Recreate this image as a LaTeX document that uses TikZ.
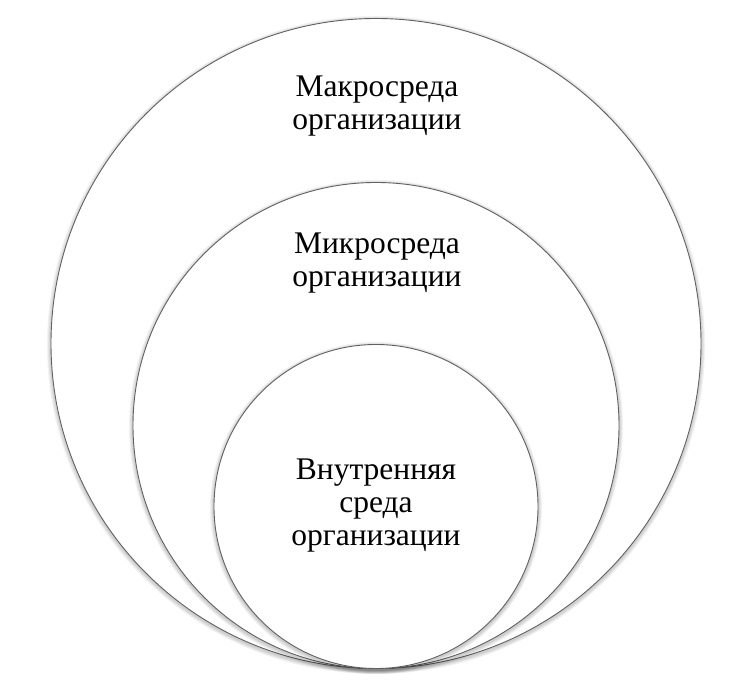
\documentclass[tikz,border=0pt]{standalone}
\usepackage{fontspec}
\setmainfont{Liberation Serif}
\tikzset{
  ring/.style={draw=black!62, line width=0.9pt, fill=white},
  ringshade/.style={fill=black, opacity=0.05, draw=none},
  envtext/.style={align=center, font=\fontsize{31.5}{33}\selectfont}
}
\begin{document}
\begin{tikzpicture}[x=1pt,y=1pt]
 \useasboundingbox (0,0) rectangle (734,687);

 % macro environment
 \foreach \s in {1,2,3,4}
  \fill[ringshade] (376,342) circle ({325pt+\s pt});
 \draw[ring] (376,343.5) circle (325pt);

 % micro environment
 \foreach \s in {1,2,3,4}
  \fill[ringshade] (376,260) circle ({243pt+\s pt});
 \draw[ring] (376,261.5) circle (243pt);

 % internal environment
 \foreach \s in {1,2,3,4}
  \fill[ringshade] (376,179) circle ({162pt+\s pt});
 \draw[ring] (376,180.5) circle (162pt);

 \node[envtext] (macro) at (377,581) {Макросреда\\организации};
 \node[envtext] (micro) at (377,424) {Микросреда\\организации};
 \node[envtext] (inner) at (376,181) {Внутренняя\\среда\\организации};
\end{tikzpicture}
\end{document}
